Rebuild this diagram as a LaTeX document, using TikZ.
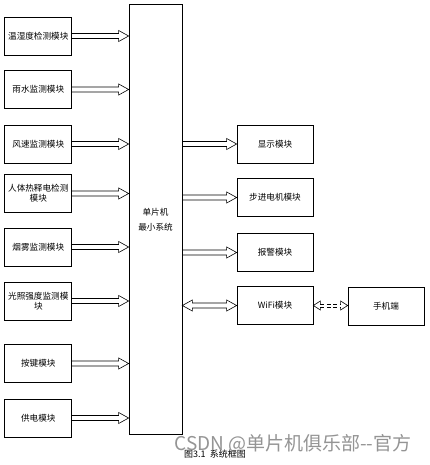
\documentclass[tikz,border=0pt]{standalone}
\usepackage{fontspec}
\newfontfamily\cjk{Noto Sans CJK SC}
\usetikzlibrary{calc}
\begin{document}
\begin{tikzpicture}[x=1pt,y=-1pt,
  font=\cjk\fontsize{8.6}{10}\selectfont,
  box/.style={draw, line width=0.7pt, minimum width=67pt, minimum height=38pt, inner sep=1pt, align=center},
  rbox/.style={box, minimum width=76pt},
  harr/.style={draw, line width=0.6pt, to path={let \p1=(\tikztostart), \p2=(\tikztotarget) in
     (\x1,\y1+2.5pt) -- (\x2-10pt,\y1+2.5pt) -- (\x2-10pt,\y1+5.5pt) -- (\x2,\y1) -- (\x2-10pt,\y1-5.5pt) -- (\x2-10pt,\y1-2.5pt) -- (\x1,\y1-2.5pt)}},
  barr/.style={draw, line width=0.6pt, to path={let \p1=(\tikztostart), \p2=(\tikztotarget) in
     (\x1+10pt,\y1+2.5pt) -- (\x2-10pt,\y1+2.5pt) -- (\x2-10pt,\y1+5.5pt) -- (\x2,\y1) -- (\x2-10pt,\y1-5.5pt) -- (\x2-10pt,\y1-2.5pt) -- (\x1+10pt,\y1-2.5pt) -- (\x1+10pt,\y1-5.5pt) -- (\x1,\y1) -- (\x1+10pt,\y1+5.5pt) -- cycle}},
  dshaft/.style={draw, line width=0.6pt, dash pattern=on 4pt off 2.5pt, to path={let \p1=(\tikztostart), \p2=(\tikztotarget) in
     (\x1+7pt,\y1+1.7pt) -- (\x2-7pt,\y1+1.7pt) (\x1+7pt,\y1-1.7pt) -- (\x2-7pt,\y1-1.7pt)}},
  dheads/.style={draw, line width=0.6pt, to path={let \p1=(\tikztostart), \p2=(\tikztotarget) in
     (\x2-7pt,\y1+1.7pt) -- (\x2-7pt,\y1+4.5pt) -- (\x2,\y1) -- (\x2-7pt,\y1-4.5pt) -- (\x2-7pt,\y1-1.7pt)
     (\x1+7pt,\y1+1.7pt) -- (\x1+7pt,\y1+4.5pt) -- (\x1,\y1) -- (\x1+7pt,\y1-4.5pt) -- (\x1+7pt,\y1-1.7pt)}}
]
\useasboundingbox (0,0) rectangle (430,465);

% central MCU
\node[draw, line width=0.7pt, minimum width=53pt, minimum height=430pt, inner sep=0pt, align=center] (mcu) at (155.5,219) {};
\node[align=center, font=\cjk\fontsize{8.6}{15}\selectfont] (mcut) at (155.5,219.5) {单片机\\最小系统};

% left modules
\node[box] (l1) at (38.3,36) {温湿度检测模块};
\node[box] (l2) at (38.3,89.5) {雨水监测模块};
\node[box] (l3) at (38.3,144) {风速监测模块};
\node[box] (l4) at (38.3,193.5) {人体热释电检测\\模块};
\node[box] (l5) at (38.3,247) {烟雾监测模块};
\node[box] (l6) at (38.3,301) {光照强度监测模\\块};
\node[box] (l7) at (38.3,363.5) {按键模块};
\node[box] (l8) at (38.3,418) {供电模块};

\foreach \b in {l1,l2,l3,l4,l5,l6,l7,l8}
  \draw[harr] (\b.east) to (\b.east -| mcu.west);

% right modules
\node[rbox] (r1) at (275,144) {显示模块};
\node[rbox] (r2) at (275,197.5) {步进电机模块};
\node[rbox] (r3) at (275,252.5) {报警模块};
\node[rbox] (r4) at (275,305.5) {WiFi模块};
\node[rbox] (ph) at (386,306.5) {手机端};

\foreach \b in {r1,r2,r3}
  \draw[harr] (\b.west -| mcu.east) to (\b.west);
\draw[barr] (r4.west -| mcu.east) to (r4.west);
\draw[dshaft] (r4.east) to (r4.east -| ph.west);
\draw[dheads] (r4.east) to (r4.east -| ph.west);

% caption and watermark
\node[font=\cjk\fontsize{9}{10}\selectfont] (cap) at (215,454) {图3.1\ \ 系统框图};
\node[font=\cjk\fontsize{19}{22}\selectfont, text=black!42] (wm) at (293,444) {CSDN @单片机俱乐部--官方};
\end{tikzpicture}
\end{document}
